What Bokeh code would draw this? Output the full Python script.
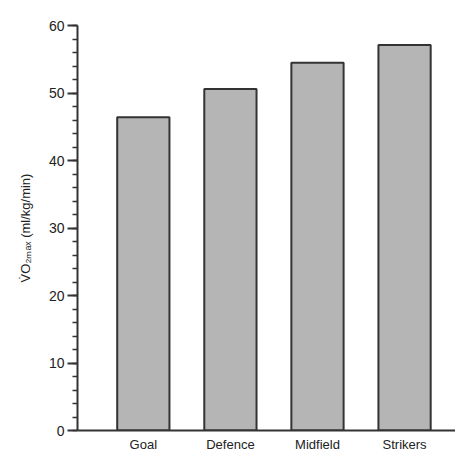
from bokeh.plotting import figure
from bokeh.models import Range1d, FixedTicker, SingleIntervalTicker
from bokeh.embed import file_html
from bokeh.resources import INLINE

categories = ["Goal", "Defence", "Midfield", "Strikers"]
vo2max = [46.4, 50.6, 54.5, 57.1]
y_ticks = [0, 10, 20, 30, 40, 50, 60]

xs = list(range(len(categories)))

p = figure(width=455, height=454, output_backend="svg", toolbar_location=None,
           x_range=Range1d(-0.756, 3.585), y_range=Range1d(0, 60),
           min_border_left=77, min_border_right=0, min_border_top=25, min_border_bottom=20)

p.vbar(x=xs, top=vo2max, width=0.6, bottom=0,
       fill_color="#b5b5b5", line_color="#333333", line_width=2)

p.xgrid.visible = False
p.ygrid.visible = False
p.outline_line_color = None

font = "Liberation Sans"

p.xaxis.ticker = FixedTicker(ticks=xs)
p.xaxis.major_label_overrides = {i: c for i, c in enumerate(categories)}
p.xaxis.major_tick_line_color = None
p.xaxis.minor_tick_line_color = None
p.xaxis.axis_line_color = "#333333"
p.xaxis.axis_line_width = 2
p.xaxis.major_label_text_font = font
p.xaxis.major_label_text_font_size = "13px"
p.xaxis.major_label_text_color = "#222222"
p.xaxis.major_label_standoff = 0

p.yaxis.ticker = SingleIntervalTicker(interval=10, num_minor_ticks=5)
p.yaxis.axis_line_color = "#333333"
p.yaxis.axis_line_width = 2
p.yaxis.major_tick_line_color = "#333333"
p.yaxis.major_tick_line_width = 2
p.yaxis.major_tick_out = 10
p.yaxis.major_tick_in = 0
p.yaxis.minor_tick_line_color = "#333333"
p.yaxis.minor_tick_line_width = 1.5
p.yaxis.minor_tick_out = 5
p.yaxis.minor_tick_in = 0
p.yaxis.major_label_text_font = font
p.yaxis.major_label_text_font_size = "14px"
p.yaxis.major_label_text_color = "#222222"
p.yaxis.major_label_standoff = 3
p.yaxis.axis_label = "V\u0307O\u2082\u2098\u2090\u2093 (ml/kg/min)"
p.yaxis.axis_label_text_font = font
p.yaxis.axis_label_text_font_style = "normal"
p.yaxis.axis_label_text_font_size = "13px"
p.yaxis.axis_label_text_color = "#222222"
p.yaxis.axis_label_standoff = 13

open("out.html", "w").write(file_html(p, INLINE))
